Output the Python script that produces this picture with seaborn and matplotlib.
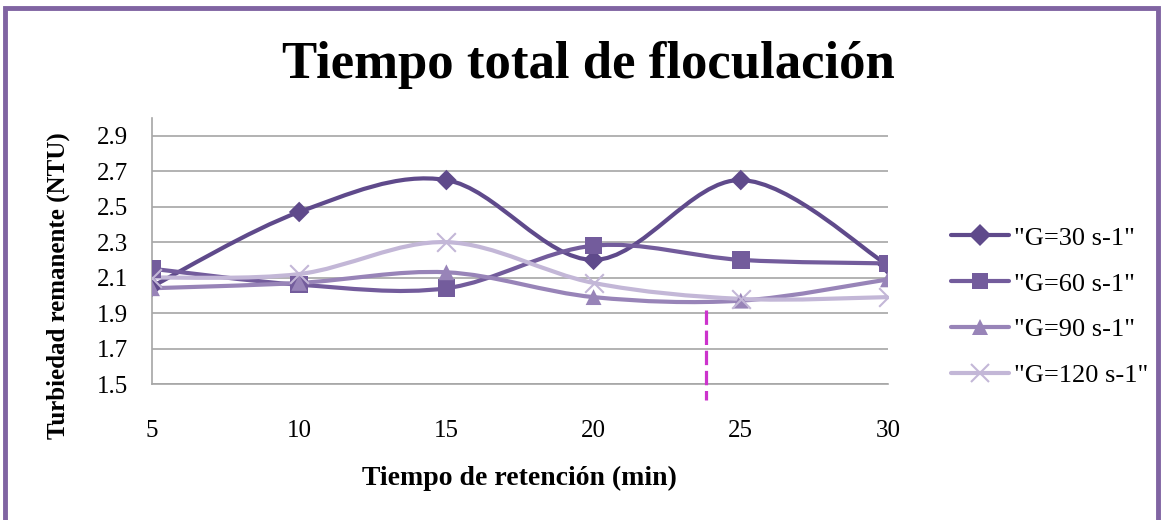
import matplotlib
matplotlib.use("Agg")
import matplotlib.pyplot as plt
import numpy as np
import pandas as pd
import seaborn as sns
from matplotlib.lines import Line2D
from matplotlib.patches import PathPatch, Rectangle
from matplotlib.path import Path

# Datos
tiempo = [5, 10, 15, 20, 25, 30]
g30 = [2.05, 2.47, 2.65, 2.20, 2.65, 2.17]
g60 = [2.15, 2.06, 2.04, 2.28, 2.20, 2.18]
g90 = [2.04, 2.07, 2.13, 1.99, 1.97, 2.09]
g120 = [2.10, 2.12, 2.30, 2.07, 1.98, 1.99]
etiquetas = ['"G=30 s-1"', '"G=60 s-1"', '"G=90 s-1"', '"G=120 s-1"']
y_ticks = [1.5, 1.7, 1.9, 2.1, 2.3, 2.5, 2.7, 2.9]
corte_x = 23.83
corte_y = [1.92, 1.41]

series = [g30, g60, g90, g120]
colores = ["#5f4a8b", "#735c9c", "#9884b8", "#c3b7d7"]
marcadores = ["D", "s", "^", "x"]
tam_marcador = [110, 160, 130, 180]


def smooth_path(xs, ys):
    """Curva Bezier suavizada al estilo Excel (Catmull-Rom)."""
    pts = np.column_stack([xs, ys]).astype(float)
    n = len(pts)
    verts = [pts[0]]
    codes = [Path.MOVETO]
    for i in range(n - 1):
        p0 = pts[max(i - 1, 0)]
        p1 = pts[i]
        p2 = pts[i + 1]
        p3 = pts[min(i + 2, n - 1)]
        c1 = p1 + (p2 - p0) / 6
        c2 = p2 - (p3 - p1) / 6
        verts += [c1, c2, p2]
        codes += [Path.CURVE4] * 3
    return Path(verts, codes)


sns.set_style("white")
plt.rcParams["font.family"] = ["Liberation Serif", "DejaVu Serif"]
plt.rcParams["text.color"] = "black"
plt.rcParams["xtick.color"] = "black"
plt.rcParams["ytick.color"] = "black"

fig = plt.figure(figsize=(11.63, 5.2), dpi=100)
ax = fig.add_axes([0.1307, 0.2615, 0.6328, 0.5116])

for vals, col, mk, ms in zip(series, colores, marcadores, tam_marcador):
    ax.add_patch(PathPatch(smooth_path(tiempo, vals), facecolor="none",
                           edgecolor=col, lw=3, zorder=3, capstyle="round"))
    df = pd.DataFrame({"t": tiempo, "v": vals})
    if mk == "x":
        sns.scatterplot(data=df, x="t", y="v", marker=mk, s=ms, color=col,
                        linewidth=1.5, ax=ax, zorder=4, legend=False)
    else:
        sns.scatterplot(data=df, x="t", y="v", marker=mk, s=ms, color=col,
                        edgecolor="none", ax=ax, zorder=4, legend=False)

ax.plot([corte_x, corte_x], corte_y, color="#cc33cc", lw=2.3,
        dashes=(4.5, 1.8), clip_on=False, zorder=5)

ax.set_xlim(5, 30)
ax.set_ylim(1.5, 3.0)
ax.set_xticks(tiempo)
ax.set_xticklabels([str(t) for t in tiempo])
ax.set_yticks(y_ticks)
ax.set_yticklabels([f"{v:.1f}" for v in y_ticks])
ax.tick_params(axis="x", length=0, pad=26, labelsize=18)
ax.tick_params(axis="y", length=0, pad=17, labelsize=18)
ax.yaxis.grid(True, color="#a6a6a6", lw=1.2)
ax.set_axisbelow(True)
for side in ["top", "right"]:
    ax.spines[side].set_visible(False)
for side in ["left", "bottom"]:
    ax.spines[side].set_color("#a6a6a6")
    ax.spines[side].set_linewidth(1.2)
ax.set_xlabel("")
ax.set_ylabel("")

fig.text(0.506, 0.875, "Tiempo total de floculación", ha="center", va="center",
         fontsize=38, fontweight="bold")
fig.text(0.447, 0.08, "Tiempo de retención (min)", ha="center", va="center",
         fontsize=20, fontweight="bold")
fig.text(0.05, 0.45, "Turbiedad remanente (NTU)", ha="center", va="center",
         fontsize=18, fontweight="bold", rotation=90)

handles = [Line2D([], [], color=c, lw=3, marker=m,
                  markersize=11 if m != "x" else 13,
                  markeredgecolor=c if m == "x" else "none",
                  markeredgewidth=1.5)
           for c, m in zip(colores, marcadores)]
fig.legend(handles, etiquetas, loc="center left",
           bbox_to_anchor=(0.797, 0.41), frameon=False, fontsize=19,
           handlelength=2.2, handletextpad=0.2, labelspacing=0.85)

fig.patches.append(Rectangle((0.004, -0.05), 0.992, 1.035, transform=fig.transFigure,
                             fill=False, edgecolor="#8064a2", lw=3.5))

fig.savefig("out.png", dpi=100, facecolor="white")
